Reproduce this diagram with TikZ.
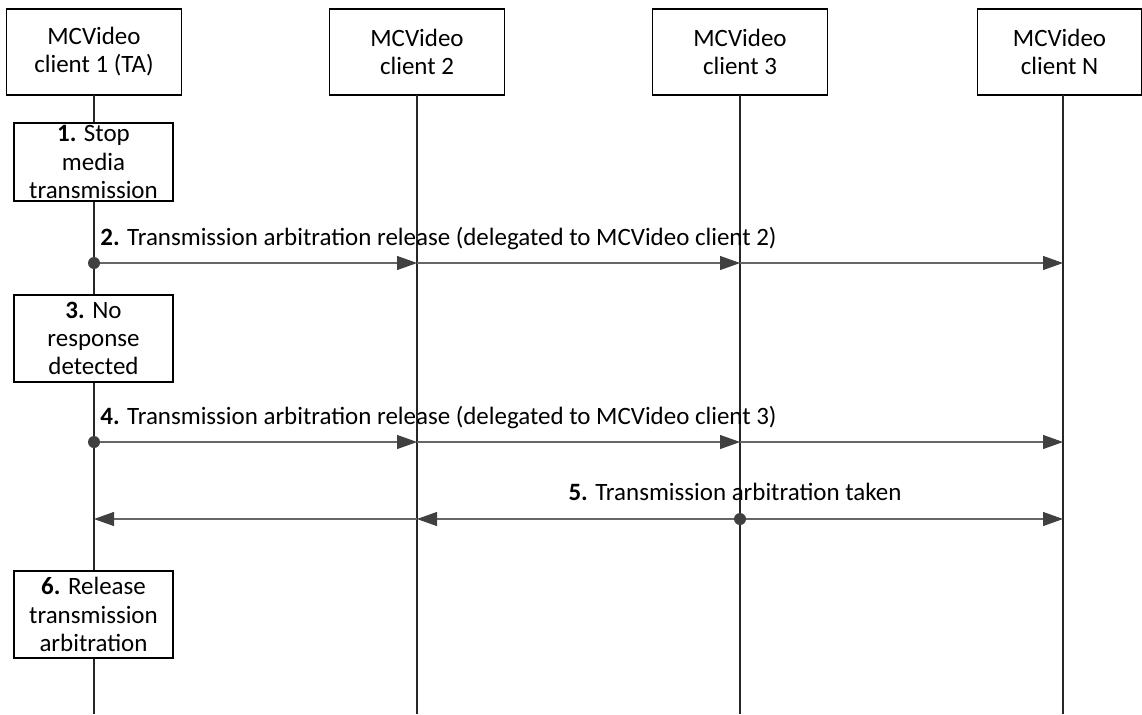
\documentclass[tikz,border=0pt]{standalone}
\usepackage{fontspec}
\setmainfont{Carlito}
\usetikzlibrary{arrows.meta}

\tikzset{
  entity/.style={draw, line width=0.6pt, minimum width=3.5cm, minimum height=1.72cm,
    align=center, inner sep=0pt, font=\fontsize{14.2}{16}\selectfont},
  action/.style={draw, line width=0.6pt, fill=white, minimum width=3.18cm,
    align=center, inner sep=0pt, font=\fontsize{14.2}{16}\selectfont},
  msg/.style={draw=black!60, line width=0.6pt,
    -{Triangle[length=0.4cm, width=0.28cm, color=black!75]}},
  msglabel/.style={font=\fontsize{14.2}{16}\selectfont, inner sep=0pt},
  lifeline/.style={line width=0.6pt, black!85}
}

\begin{document}
\begin{tikzpicture}
        \useasboundingbox (0,0) rectangle (22.84,-14.28);

        % Participantes
        \node[entity] (c1) at (1.88,-1.04) {MCVideo\\client 1 (TA)};
        \node[entity] (c2) at (8.34,-1.04) {MCVideo\\client 2};
        \node[entity] (c3) at (14.80,-1.04) {MCVideo\\client 3};
        \node[entity, minimum width=3.28cm, anchor=west] (cN) at (19.54,-1.04) {MCVideo\\client N};

        % Filas de mensajes
        \coordinate (bot) at (0,-14.28);
        \coordinate (r2) at (0,-5.26);
        \coordinate (r4) at (0,-8.84);
        \coordinate (r5) at (0,-10.38);

        % Lineas de vida
        \foreach \c/\x in {c1/1.88, c2/8.34, c3/14.80, cN/21.26} {
            \coordinate (\c top) at (\x,-1.9);
            \draw[lifeline] (\c top) -- (\c top |- bot);
        }

        % Acciones del cliente 1
        \node[action, minimum height=1.56cm] (a1) at (1.87,-3.24) {\textbf{1.} Stop\\media\\transmission};
        \node[action, minimum height=1.74cm] (a3) at (1.87,-6.77) {\textbf{3.} No\\response\\detected};
        \node[action, minimum height=1.74cm] (a6) at (1.87,-12.29) {\textbf{6.} Release\\transmission\\arbitration};

        % Mensaje 2
        \draw[msg] (c1top |- r2) -- (c2top |- r2);
        \draw[msg] (c2top |- r2) -- (c3top |- r2);
        \draw[msg] (c3top |- r2) -- (cNtop |- r2);
        \fill[black!75] (c1top |- r2) circle (0.12);
        \node[msglabel, anchor=base west] (l2) at ([xshift=0.12cm, yshift=0.36cm]c1top |- r2)
            {\textbf{2.} Transmission arbitration release (delegated to MCVideo client 2)};

        % Mensaje 4
        \draw[msg] (c1top |- r4) -- (c2top |- r4);
        \draw[msg] (c2top |- r4) -- (c3top |- r4);
        \draw[msg] (c3top |- r4) -- (cNtop |- r4);
        \fill[black!75] (c1top |- r4) circle (0.12);
        \node[msglabel, anchor=base west] (l4) at ([xshift=0.12cm, yshift=0.36cm]c1top |- r4)
            {\textbf{4.} Transmission arbitration release (delegated to MCVideo client 3)};

        % Mensaje 5
        \draw[msg] (c3top |- r5) -- (c2top |- r5);
        \draw[msg] (c2top |- r5) -- (c1top |- r5);
        \draw[msg] (c3top |- r5) -- (cNtop |- r5);
        \fill[black!75] (c3top |- r5) circle (0.12);
        \node[msglabel, anchor=base] (l5) at ([xshift=-0.1cm, yshift=0.38cm]c3top |- r5)
            {\textbf{5.} Transmission arbitration taken};
\end{tikzpicture}
\end{document}
